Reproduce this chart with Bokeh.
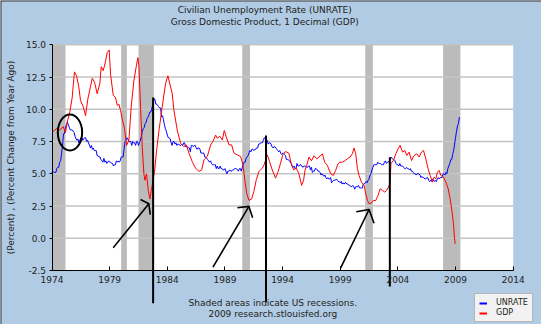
from bokeh.plotting import figure
from bokeh.models import Label, FixedTicker, Legend, LegendItem, Range1d, NumeralTickFormatter, Span
from bokeh.embed import file_html
from bokeh.resources import INLINE

# ---------------- data ----------------
unrate_start_year = 1974
unrate = [
    5.1, 5.2, 5.1, 5.1, 5.1, 5.4, 5.5, 5.5, 5.9, 6.0, 6.6, 7.2,   # 1974
    8.1, 8.1, 8.6, 8.8, 9.0, 8.8, 8.6, 8.4, 8.4, 8.4, 8.3, 8.2,   # 1975
    7.9, 7.7, 7.6, 7.7, 7.4, 7.6, 7.8, 7.8, 7.6, 7.7, 7.8, 7.8,   # 1976
    7.5, 7.6, 7.4, 7.2, 7.0, 7.2, 6.9, 7.0, 6.8, 6.8, 6.8, 6.4,   # 1977
    6.4, 6.3, 6.3, 6.1, 6.0, 5.9, 6.2, 5.9, 6.0, 5.8, 5.9, 6.0,   # 1978
    5.9, 5.9, 5.8, 5.8, 5.6, 5.7, 5.7, 6.0, 5.9, 6.0, 5.9, 6.0,   # 1979
    6.3, 6.3, 6.3, 6.9, 7.5, 7.6, 7.8, 7.7, 7.5, 7.5, 7.5, 7.2,   # 1980
    7.5, 7.4, 7.4, 7.2, 7.5, 7.5, 7.2, 7.4, 7.6, 7.9, 8.3, 8.5,   # 1981
    8.6, 8.9, 9.0, 9.3, 9.4, 9.6, 9.8, 9.8, 10.1, 10.4, 10.8, 10.8,  # 1982
    10.4, 10.4, 10.3, 10.2, 10.1, 10.1, 9.4, 9.5, 9.2, 8.8, 8.5, 8.3,  # 1983
    8.0, 7.8, 7.8, 7.7, 7.4, 7.2, 7.5, 7.5, 7.3, 7.4, 7.2, 7.3,   # 1984
    7.3, 7.2, 7.2, 7.3, 7.2, 7.4, 7.4, 7.1, 7.1, 7.1, 7.0, 7.0,   # 1985
    6.7, 7.2, 7.2, 7.1, 7.2, 7.2, 7.0, 6.9, 7.0, 7.0, 6.9, 6.6,   # 1986
    6.6, 6.6, 6.6, 6.3, 6.3, 6.2, 6.1, 6.0, 5.9, 6.0, 5.8, 5.7,   # 1987
    5.7, 5.7, 5.7, 5.4, 5.6, 5.4, 5.4, 5.6, 5.4, 5.4, 5.3, 5.3,   # 1988
    5.4, 5.2, 5.0, 5.2, 5.2, 5.3, 5.2, 5.2, 5.3, 5.3, 5.4, 5.4,   # 1989
    5.4, 5.3, 5.2, 5.4, 5.4, 5.2, 5.5, 5.7, 5.9, 5.9, 6.2, 6.3,   # 1990
    6.4, 6.6, 6.8, 6.7, 6.9, 6.9, 6.8, 6.9, 6.9, 7.0, 7.0, 7.3,   # 1991
    7.3, 7.4, 7.4, 7.4, 7.6, 7.8, 7.7, 7.6, 7.6, 7.3, 7.4, 7.4,   # 1992
    7.3, 7.1, 7.0, 7.1, 7.1, 7.0, 6.9, 6.8, 6.7, 6.8, 6.6, 6.5,   # 1993
    6.6, 6.6, 6.5, 6.4, 6.1, 6.1, 6.1, 6.0, 5.9, 5.8, 5.6, 5.5,   # 1994
    5.6, 5.4, 5.4, 5.8, 5.6, 5.6, 5.7, 5.7, 5.6, 5.5, 5.6, 5.6,   # 1995
    5.6, 5.5, 5.5, 5.6, 5.6, 5.3, 5.5, 5.1, 5.2, 5.2, 5.4, 5.4,   # 1996
    5.3, 5.2, 5.2, 5.1, 4.9, 5.0, 4.9, 4.8, 4.9, 4.7, 4.6, 4.7,   # 1997
    4.6, 4.6, 4.7, 4.3, 4.4, 4.5, 4.5, 4.5, 4.6, 4.5, 4.4, 4.4,   # 1998
    4.3, 4.4, 4.2, 4.3, 4.2, 4.3, 4.3, 4.2, 4.2, 4.1, 4.1, 4.0,   # 1999
    4.0, 4.1, 4.0, 3.8, 4.0, 4.0, 4.0, 4.1, 3.9, 3.9, 3.9, 3.9,   # 2000
    4.2, 4.2, 4.3, 4.4, 4.3, 4.5, 4.6, 4.9, 5.0, 5.3, 5.5, 5.7,   # 2001
    5.7, 5.7, 5.7, 5.9, 5.8, 5.8, 5.8, 5.7, 5.7, 5.7, 5.9, 6.0,   # 2002
    5.8, 5.9, 5.9, 6.0, 6.1, 6.3, 6.2, 6.1, 6.1, 6.0, 5.8, 5.7,   # 2003
    5.7, 5.6, 5.8, 5.6, 5.6, 5.6, 5.5, 5.4, 5.4, 5.5, 5.4, 5.4,   # 2004
    5.3, 5.4, 5.2, 5.2, 5.1, 5.0, 5.0, 4.9, 5.0, 5.0, 5.0, 4.9,   # 2005
    4.7, 4.8, 4.7, 4.7, 4.6, 4.6, 4.7, 4.7, 4.5, 4.4, 4.5, 4.4,   # 2006
    4.6, 4.5, 4.4, 4.5, 4.4, 4.6, 4.7, 4.6, 4.7, 4.7, 4.7, 5.0,   # 2007
    5.0, 4.9, 5.1, 5.0, 5.4, 5.6, 5.8, 6.1, 6.1, 6.5, 6.8, 7.3,   # 2008
    7.8, 8.3, 8.7, 8.9, 9.4,                                      # 2009
]
unrate_year = [unrate_start_year + i / 12.0 for i in range(len(unrate))]

gdp_year = [
    1974.01, 1974.45, 1974.68, 1974.97, 1975.17, 1975.32, 1975.55, 1975.75, 1975.95, 1976.13, 1976.33, 1976.47, 1976.71, 1976.91,
    1977.11, 1977.49, 1977.69, 1977.92, 1978.15, 1978.27, 1978.44, 1978.59, 1978.79, 1978.96, 1979.08, 1979.31, 1979.51, 1979.66, 1979.80, 1979.95,
    1980.09, 1980.29, 1980.47, 1980.67, 1980.87, 1981.10, 1981.34, 1981.45, 1981.54, 1981.68, 1981.83, 1981.97, 1982.06, 1982.20, 1982.35, 1982.49, 1982.61, 1982.90,
    1983.07, 1983.27, 1983.56, 1983.85, 1984.05, 1984.43, 1984.57, 1984.86, 1985.15, 1985.44, 1985.64, 1985.88,
    1986.16, 1986.45, 1986.74, 1986.98, 1987.18, 1987.47, 1987.76, 1987.96, 1988.19, 1988.33, 1988.56, 1988.77, 1988.94, 1989.10, 1989.35, 1989.58, 1989.78,
    1990.07, 1990.36, 1990.56, 1990.74, 1990.88, 1991.08, 1991.31, 1991.51, 1991.72, 1991.95, 1992.24, 1992.40, 1992.67, 1992.87,
    1993.10, 1993.39, 1993.62, 1993.82, 1994.02, 1994.25, 1994.54, 1994.77, 1994.97, 1995.17, 1995.40, 1995.65, 1995.82, 1995.95,
    1996.09, 1996.29, 1996.50, 1996.73, 1996.96, 1997.16, 1997.45, 1997.65, 1997.88, 1998.17, 1998.40, 1998.60, 1998.81, 1998.98, 1999.19, 1999.39, 1999.62, 1999.85,
    2000.05, 2000.20, 2000.34, 2000.49, 2000.63, 2000.84, 2001.07, 2001.21, 2001.36, 2001.50, 2001.70, 2001.88, 2002.08, 2002.28, 2002.46, 2002.66, 2002.86, 2003.03, 2003.30, 2003.40, 2003.61, 2003.82,
    2004.02, 2004.19, 2004.40, 2004.60, 2004.77, 2004.97, 2005.18, 2005.41, 2005.64, 2005.84, 2006.05, 2006.22, 2006.42, 2006.62, 2006.80, 2007.00, 2007.14, 2007.29, 2007.43, 2007.58, 2007.72, 2007.95, 2008.16, 2008.36, 2008.53, 2008.68, 2008.82, 2008.90, 2008.97,
]
gdp_pct = [
    8.2, 8.55, 8.4, 8.65, 8.2, 9.0, 9.8, 10.9, 12.9, 12.6, 11.7, 10.7, 10.2, 9.5,
    10.8, 12.4, 12.1, 11.2, 12.0, 13.3, 13.0, 13.5, 14.4, 14.6, 12.7, 11.1, 10.9, 10.3, 10.4, 9.9,
    9.25, 8.5, 7.2, 7.6, 10.2, 12.2, 13.5, 14.0, 13.3, 10.2, 7.05, 5.0, 4.5, 5.0, 3.7, 3.05, 3.7, 5.2,
    6.8, 8.3, 10.2, 12.0, 12.6, 11.2, 9.95, 8.4, 7.37, 7.1, 7.24, 6.6,
    5.95, 5.44, 5.18, 5.3, 6.08, 6.34, 7.24, 7.5, 8.0, 7.76, 7.9, 7.63, 8.35, 7.9, 7.24, 7.24, 6.6,
    6.47, 6.34, 5.7, 4.4, 3.5, 2.94, 3.04, 3.63, 4.54, 5.18, 5.44, 5.7, 6.47, 5.95,
    5.3, 4.66, 5.18, 5.82, 6.47, 6.73, 6.6, 5.7, 5.3, 5.44, 5.05, 4.1, 4.5, 5.3,
    5.65, 6.3, 6.0, 6.4, 6.16, 6.3, 6.55, 5.9, 5.65, 5.0, 4.87, 5.26, 5.78, 5.9, 5.9, 6.0, 6.16, 6.3,
    6.55, 7.0, 6.55, 5.4, 4.87, 4.35, 4.1, 3.45, 2.93, 2.68, 2.73, 2.93, 2.93, 3.32, 3.84, 3.71, 3.58, 3.71, 4.2, 5.8, 6.03, 6.55,
    6.94, 7.2, 6.68, 6.81, 6.42, 6.68, 6.03, 6.42, 6.55, 6.3, 6.68, 6.81, 6.16, 5.39, 4.87, 4.35, 4.74, 4.61, 5.13, 5.26, 4.87, 4.74, 4.35, 3.84, 3.06, 2.16, 1.12, 0.1, -0.43,
]

recession_start = [1973.83, 1980.00, 1981.50, 1990.50, 2001.17, 2007.92]
recession_end = [1975.17, 1980.50, 1982.83, 1991.17, 2001.83, 2009.42]

x_ticks = [1974, 1979, 1984, 1989, 1994, 1999, 2004, 2009, 2014]
y_ticks = [-2.5, 0.0, 2.5, 5.0, 7.5, 10.0, 12.5, 15.0]

title_lines = ["Civilian Unemployment Rate (UNRATE)", "Gross Domestic Product, 1 Decimal (GDP)"]
note_lines = ["Shaded areas indicate US recessions.", "2009 research.stlouisfed.org"]
y_label = "(Percent) , (Percent Change from Year Ago)"
legend_labels = ["UNRATE", "GDP"]

# hand-drawn annotations (data coordinates)
vline_x = [1982.77, 1992.56, 2003.30]
vline_top = [10.91, 7.97, 6.29]
vline_bottom = [-5.03, -4.95, -3.74]
arrow_shaft_xs = [[1979.31, 1982.40], [1987.96, 1991.08], [1999.04, 2001.50]]
arrow_shaft_ys = [[-0.74, 2.67], [-2.24, 2.47], [-2.29, 2.23]]
arrow_head_xs = [[1981.68, 1982.40, 1982.52], [1990.08, 1991.08, 1991.40], [2000.39, 2001.50, 2001.93]]
arrow_head_ys = [[3.01, 2.67, 1.84], [2.36, 2.47, 1.59], [2.05, 2.23, 1.17]]
circle_x, circle_y, circle_w, circle_h = [1975.56], [8.2], [2.11], [2.79]

# ---------------- layout ----------------
W, H = 541, 324
X0, X1 = 1974, 2014          # plotted x-extent
Y0, Y1 = -2.5, 15            # plotted y-extent
PLOT_L, PLOT_R, PLOT_T, PLOT_B = 51.5, 512.7, 44.3, 270.0   # pixel box of the plot area
sx = (PLOT_R - PLOT_L) / (X1 - X0)
sy = (PLOT_B - PLOT_T) / (Y1 - Y0)
xr = Range1d(X0 - PLOT_L / sx, X1 + (W - PLOT_R) / sx)
yr = Range1d(Y0 - (H - PLOT_B) / sy, Y1 + PLOT_T / sy)

FONT = "DejaVu Sans"
BG = "#b0cbe3"
TXT = "#222222"
BLUE, RED = "#0000ff", "#ff0000"

p = figure(width=W, height=H, output_backend="svg", toolbar_location=None,
           x_range=xr, y_range=yr,
           min_border_left=0, min_border_right=0, min_border_top=0, min_border_bottom=0)
p.title.visible = False
p.border_fill_color = BG
p.background_fill_color = BG
p.outline_line_color = None

# plot area (white) and recessions
p.quad(left=[X0], right=[X1], bottom=[Y0], top=[Y1], fill_color="white", line_color=None)
p.quad(left=[max(s, X0) for s in recession_start], right=recession_end, bottom=Y0, top=Y1,
       fill_color="#bbbbbb", line_color=None)
# horizontal grid lines
p.segment(x0=X0, x1=X1, y0=y_ticks[1:], y1=y_ticks[1:], line_color="#c4c4c4", line_width=1.5)

# series
r_un = p.line(unrate_year, unrate, line_color=BLUE, line_width=1)
r_gdp = p.line(gdp_year, gdp_pct, line_color=RED, line_width=1)
# legend swatches (thicker line samples, nothing drawn in the plot)
nan = float("nan")
sw_un = p.line([X0, X0], [nan, nan], line_color=BLUE, line_width=2)
sw_gdp = p.line([X0, X0], [nan, nan], line_color=RED, line_width=2)

# hand-drawn annotations
p.multi_line(arrow_shaft_xs, arrow_shaft_ys, line_color="black", line_width=1.6)
p.multi_line(arrow_head_xs, arrow_head_ys, line_color="black", line_width=1.6)
p.ellipse(x=circle_x, y=circle_y, width=circle_w, height=circle_h,
          fill_color=None, line_color="black", line_width=2)
p.segment(x0=vline_x, x1=vline_x, y0=vline_top, y1=vline_bottom, line_color="black", line_width=2)

# axes
p.xgrid.visible = False
p.ygrid.visible = False
xa, ya = p.xaxis[0], p.yaxis[0]
xa.fixed_location = Y0
ya.fixed_location = X0
xa.bounds = (X0, X1)
ya.bounds = (Y0, Y1)
xa.ticker = FixedTicker(ticks=x_ticks)
ya.ticker = FixedTicker(ticks=y_ticks)
ya.formatter = NumeralTickFormatter(format="0.0")
for ax in (xa, ya):
    ax.axis_line_color = "black"
    ax.major_tick_line_color = "black"
    ax.minor_tick_line_color = None
    ax.major_label_text_font = FONT
    ax.major_label_text_font_size = "9px"
    ax.major_label_text_color = TXT
xa.major_tick_in = 4
xa.major_tick_out = 0
xa.major_label_standoff = 5
ya.major_tick_in = 0
ya.major_tick_out = 3
ya.major_label_standoff = 3
ya.axis_label = y_label
ya.axis_label_text_font = FONT
ya.axis_label_text_font_size = "9px"
ya.axis_label_text_font_style = "normal"
ya.axis_label_text_color = TXT
ya.axis_label_standoff = 7

# titles and notes
for txt, yy in zip(title_lines, [17.66, 16.73]):
    p.add_layout(Label(x=1992.45, y=yy, text=txt, text_align="center", text_baseline="middle",
                       text_font=FONT, text_font_size="9px", text_color=TXT))
for txt, yy in zip(note_lines, [-5.0, -5.85]):
    p.add_layout(Label(x=1993.15, y=yy, text=txt, text_align="center", text_baseline="middle",
                       text_font=FONT, text_font_size="9px", text_color=TXT))

# window edge lines (top and left)
p.add_layout(Span(location=xr.start, dimension="height", line_color="#3a3a3a", line_width=2))
p.add_layout(Span(location=yr.end, dimension="width", line_color="#3a3a3a", line_width=2))

legend = Legend(items=[LegendItem(label=legend_labels[0], renderers=[sw_un]),
                       LegendItem(label=legend_labels[1], renderers=[sw_gdp])],
                location=(474, 2), orientation="vertical",
                label_text_font=FONT, label_text_font_size="8px", label_text_color=TXT,
                glyph_width=8, glyph_height=8, label_height=8, label_standoff=9,
                spacing=1, padding=4, margin=0,
                border_line_color="#777777", border_line_width=1,
                background_fill_color="#f2f2f2", background_fill_alpha=1)
p.add_layout(legend)

open("out.html", "w").write(file_html(p, INLINE))
